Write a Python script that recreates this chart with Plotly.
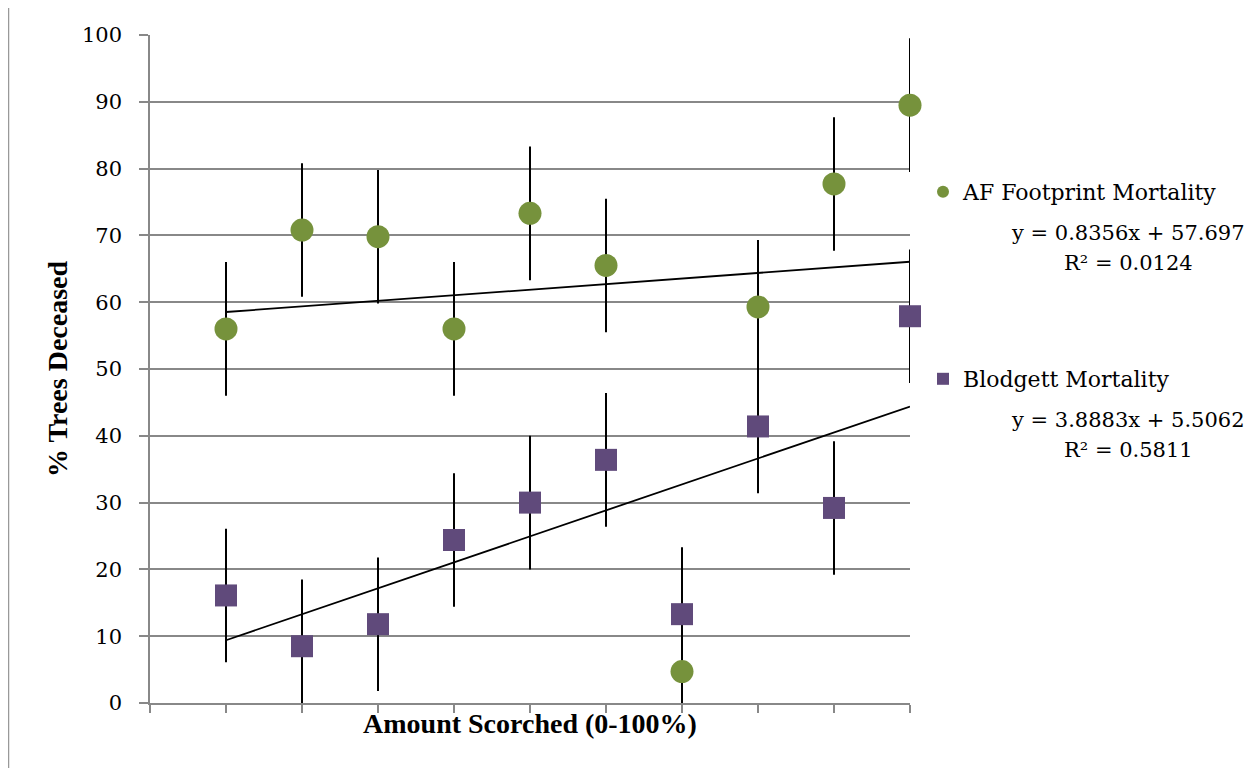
import plotly.graph_objects as go

x_pos = [1, 2, 3, 4, 5, 6, 7, 8, 9, 10]
af_values = [56.0, 70.8, 69.8, 56.0, 73.3, 65.5, 4.7, 59.3, 77.7, 89.5]
blod_values = [16.1, 8.5, 11.8, 24.4, 30.0, 36.4, 13.3, 41.4, 29.2, 57.9]
err = 10
af_fit = ("0.8356", "57.697", "0.0124")
blod_fit = ("3.8883", "5.5062", "0.5811")
y_ticks = [0, 10, 20, 30, 40, 50, 60, 70, 80, 90, 100]

GREEN = "#76923C"
PURPLE = "#604A7B"
SERIF = "DejaVu Serif, serif"
TITLE_FONT = "Liberation Serif, serif"

fig = go.Figure()

# error bars (clipped to plot area)
for vals in (af_values, blod_values):
    fig.add_trace(go.Scatter(
        x=x_pos, y=vals, mode="markers",
        marker=dict(size=1, color="rgba(0,0,0,0)"),
        error_y=dict(type="constant", value=err, color="black", thickness=2, width=0),
        showlegend=False, hoverinfo="skip", cliponaxis=True))

# trend lines
for (m, b, r2) in (af_fit, blod_fit):
    xs = [x_pos[0], x_pos[-1]]
    fig.add_trace(go.Scatter(
        x=xs, y=[float(m) * v + float(b) for v in xs], mode="lines",
        line=dict(color="black", width=1.8), showlegend=False, hoverinfo="skip"))

# markers
fig.add_trace(go.Scatter(
    x=x_pos, y=af_values, mode="markers", name="AF Footprint Mortality",
    marker=dict(symbol="circle", size=23, color=GREEN), cliponaxis=False,
    legend="legend"))
fig.add_trace(go.Scatter(
    x=x_pos, y=blod_values, mode="markers", name="Blodgett Mortality",
    marker=dict(symbol="square", size=22, color=PURPLE), cliponaxis=False,
    legend="legend2"))

# page has an 8px body margin: figure is offset by 8px
OFF = 8
W, H = 1254 - OFF, 768 - OFF
L, R, T, B = 150, 910, 35, 703  # plot area in screenshot pixels


def px_x(v):
    return (v - L) / (R - L)


def px_y(v):
    return (B - v) / (B - T)


fig.update_layout(
    width=W, height=H,
    margin=dict(l=L - OFF, r=(W + OFF) - R, t=T - OFF, b=(H + OFF) - B),
    plot_bgcolor="white", paper_bgcolor="white",
    font=dict(family=SERIF, size=20, color="black"),
    xaxis=dict(range=[0, 10], tickvals=list(range(0, 11)), showticklabels=False,
               ticks="outside", ticklen=8, tickcolor="#888888", tickwidth=1.5,
               showgrid=False, showline=True, linecolor="#888888", linewidth=1.5,
               zeroline=False,
               title=dict(text="<b>Amount Scorched (0-100%)</b>", standoff=2,
                          font=dict(size=28, family=TITLE_FONT))),
    yaxis=dict(range=[0, 100], tickvals=y_ticks, ticks="outside", ticklen=9,
               tickcolor="#888888", tickwidth=1.5, showgrid=True,
               gridcolor="#888888", gridwidth=1.5, showline=True,
               linecolor="#888888", linewidth=1.5, zeroline=False,
               ticklabelstandoff=13, tickfont=dict(size=21, family=SERIF),
               title=dict(text="<b>% Trees Deceased</b>", standoff=6,
                          font=dict(size=28, family=TITLE_FONT))),
    legend=dict(x=px_x(923), y=px_y(171), xanchor="left", yanchor="top",
                itemsizing="constant", font=dict(size=22, family=SERIF),
                bgcolor="rgba(0,0,0,0)"),
    legend2=dict(x=px_x(923), y=px_y(358), xanchor="left", yanchor="top",
                 itemsizing="constant", font=dict(size=22, family=SERIF),
                 bgcolor="rgba(0,0,0,0)"),
    showlegend=True,
)

for (m, b, r2), y1, y2 in ((af_fit, 233, 263), (blod_fit, 420, 450)):
    fig.add_annotation(
        x=px_x(1128), y=px_y(y1), xref="paper", yref="paper",
        xanchor="center", yanchor="middle", showarrow=False,
        text=f"y = {m}x + {b}", font=dict(size=21, family=SERIF))
    fig.add_annotation(
        x=px_x(1128), y=px_y(y2), xref="paper", yref="paper",
        xanchor="center", yanchor="middle", showarrow=False,
        text=f"R² = {r2}", font=dict(size=21, family=SERIF))

# left frame line of the chart area
fig.add_shape(type="line", x0=px_x(8.5), x1=px_x(8.5), y0=px_y(OFF), y1=px_y(768),
              xref="paper", yref="paper", line=dict(color="#999999", width=1.5))

fig.write_html("out.html")
